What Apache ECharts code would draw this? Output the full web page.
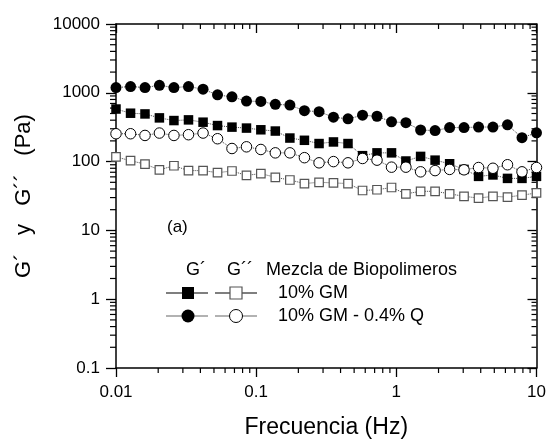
<!DOCTYPE html>
<html>
<head>
<meta charset="utf-8">
<script src="https://cdn.jsdelivr.net/npm/echarts@6/dist/echarts.min.js"></script>
<style>html,body{margin:0;padding:0;background:#fff;}#c{width:549px;height:444px;}</style>
</head>
<body>
<div id="c"></div>
<script>
// ---- data ----
var freq = [0.01, 0.0127, 0.0161, 0.0204, 0.0259, 0.0329, 0.0418, 0.053, 0.0672, 0.0853,
            0.108, 0.137, 0.174, 0.221, 0.281, 0.356, 0.452, 0.574, 0.728, 0.924,
            1.17, 1.49, 1.89, 2.4, 3.04, 3.86, 4.89, 6.21, 7.88, 10];
var gpGM   = [581, 505, 493, 432, 395, 404, 374, 334, 317, 307, 290, 278, 220, 204, 183,
              193, 183, 122, 134, 134, 102, 119, 105, 93, 77, 61, 64, 57, 57, 61];
var gppGM  = [117, 103, 92, 76, 87, 74, 74, 69, 73, 63, 67, 59, 54, 48, 50,
              49, 48, 38, 39, 42, 34, 37, 37, 34, 31.3, 29.5, 31.3, 30.5, 32.5, 35];
var gpGMQ  = [1191, 1233, 1191, 1285, 1191, 1233, 1127, 933, 873, 757, 750, 679, 663, 549, 532,
              442, 418, 472, 456, 378, 368, 288, 282, 312, 312, 318, 318, 342, 223, 262];
var gppGMQ = [254, 254, 240, 260, 240, 246, 260, 215, 155, 164, 150, 134, 134, 114, 96,
              100, 96, 111, 105, 83, 83, 71, 74, 77, 76, 82, 80, 90, 71, 82];
var xTickLabels = ['0.01', '0.1', '1', '10'];
var yTickLabels = ['0.1', '1', '10', '100', '1000', '10000'];
var xMinorTicks = [0.02,0.03,0.04,0.05,0.06,0.07,0.08,0.09, 0.2,0.3,0.4,0.5,0.6,0.7,0.8,0.9, 2,3,4,5,6,7,8,9];
var yMinorTicks = [0.2,0.3,0.4,0.5,0.6,0.7,0.8,0.9, 2,3,4,5,6,7,8,9, 20,30,40,50,60,70,80,90,
                   200,300,400,500,600,700,800,900, 2000,3000,4000,5000,6000,7000,8000,9000];
var seriesNames = ['10% GM', '10% GM - 0.4% Q'];
var xMin = 0.01, xMax = 10, yMin = 0.1, yMax = 10000;

var FONT = 'Liberation Sans, Arial, Helvetica, sans-serif';
function pairs(vals) { return freq.map(function (f, i) { return [f, vals[i]]; }); }
function xFmt(v) { return xTickLabels[Math.round(Math.log10(v)) + 2]; }
function yFmt(v) { return yTickLabels[Math.round(Math.log10(v)) + 1]; }

var lineDot = { type: 'dotted', width: 1, color: '#444' };

var chart = echarts.init(document.getElementById('c'), null, { renderer: 'canvas' });
var axisLineStyle = { color: '#000', width: 1.5 };

chart.setOption({
  animation: false,
  backgroundColor: '#fff',
  grid: { left: 116, right: 12.5, top: 24, bottom: 72.5 },
  xAxis: [{
    type: 'log', logBase: 10, min: xMin, max: xMax, splitNumber: 3, position: 'bottom',
    axisLine: { show: true, lineStyle: axisLineStyle },
    axisTick: { show: true, inside: false, length: 9, lineStyle: { color: '#000', width: 1.3 } },
    axisLabel: { formatter: xFmt, fontFamily: FONT, fontSize: 17, color: '#000', margin: 16 },
    splitLine: { show: false },
    name: 'Frecuencia (Hz)', nameLocation: 'middle', nameGap: 48,
    nameTextStyle: { fontFamily: FONT, fontSize: 23, color: '#000' }
  }, {
    type: 'log', logBase: 10, min: xMin, max: xMax, splitNumber: 3, position: 'top',
    axisLine: { show: true, lineStyle: axisLineStyle },
    axisTick: { show: true, inside: true, length: 9, lineStyle: { color: '#000', width: 1.3 } },
    axisLabel: { show: false }, splitLine: { show: false }
  }],
  yAxis: [{
    type: 'log', logBase: 10, min: yMin, max: yMax, splitNumber: 5, position: 'left',
    axisLine: { show: true, lineStyle: axisLineStyle },
    axisTick: { show: true, inside: false, length: 10, lineStyle: { color: '#000', width: 1.3 } },
    axisLabel: { formatter: yFmt, fontFamily: FONT, fontSize: 17, color: '#000', margin: 16 },
    splitLine: { show: false },
    name: 'G\u00B4   y   G\u00B4\u00B4   (Pa)', nameLocation: 'middle', nameGap: 81,
    nameTextStyle: { fontFamily: FONT, fontSize: 22, color: '#000' }
  }, {
    type: 'log', logBase: 10, min: yMin, max: yMax, splitNumber: 5, position: 'right',
    axisLine: { show: true, lineStyle: axisLineStyle },
    axisTick: { show: true, inside: true, length: 9, lineStyle: { color: '#000', width: 1.3 } },
    axisLabel: { show: false }, splitLine: { show: false }
  }],
  series: [
    {
      type: 'custom', name: 'xminor', silent: true, z: 1,
      data: xMinorTicks.map(function (v) { return [v, yMin]; }),
      renderItem: function (params, api) {
        var v = api.value(0);
        var b = api.coord([v, yMin]);
        var t = api.coord([v, yMax]);
        var st = { stroke: '#000', lineWidth: 1.2 };
        return { type: 'group', children: [
          { type: 'line', shape: { x1: b[0], y1: b[1], x2: b[0], y2: b[1] + 5 }, style: st },
          { type: 'line', shape: { x1: t[0], y1: t[1], x2: t[0], y2: t[1] + 5 }, style: st }
        ]};
      }
    },
    {
      type: 'custom', name: 'yminor', silent: true, z: 1,
      data: yMinorTicks.map(function (v) { return [xMin, v]; }),
      renderItem: function (params, api) {
        var v = api.value(1);
        var l = api.coord([xMin, v]);
        var r = api.coord([xMax, v]);
        var st = { stroke: '#000', lineWidth: 1.2 };
        return { type: 'group', children: [
          { type: 'line', shape: { x1: l[0] - 6, y1: l[1], x2: l[0], y2: l[1] }, style: st },
          { type: 'line', shape: { x1: r[0] - 5, y1: r[1], x2: r[0], y2: r[1] }, style: st }
        ]};
      }
    },
    {
      name: 'G\u00B4 ' + seriesNames[1], type: 'line', data: pairs(gpGMQ), z: 3,
      symbol: 'circle', symbolSize: 11, lineStyle: lineDot,
      itemStyle: { color: '#000', borderColor: '#000', borderWidth: 0 }
    },
    {
      name: 'G\u00B4 ' + seriesNames[0], type: 'line', data: pairs(gpGM), z: 4,
      symbol: 'rect', symbolSize: 9.5, lineStyle: lineDot,
      itemStyle: { color: '#000', borderColor: '#000', borderWidth: 0 }
    },
    {
      name: 'G\u00B4\u00B4 ' + seriesNames[0], type: 'line', data: pairs(gppGM), z: 5,
      symbol: 'rect', symbolSize: 8.5, lineStyle: lineDot,
      itemStyle: { color: '#fff', borderColor: '#555', borderWidth: 1.2 }
    },
    {
      name: 'G\u00B4\u00B4 ' + seriesNames[1], type: 'line', data: pairs(gppGMQ), z: 6,
      symbol: 'circle', symbolSize: 10.5, lineStyle: lineDot,
      itemStyle: { color: '#fff', borderColor: '#000', borderWidth: 1 }
    }
  ],
  graphic: [
    { type: 'text', left: 167, top: 219, style: { text: '(a)', font: '17px ' + FONT, fill: '#000' } },
    { type: 'text', x: 196, y: 270, style: { text: 'G\u00B4', font: '18px ' + FONT, fill: '#000', align: 'center', verticalAlign: 'middle' } },
    { type: 'text', x: 240, y: 270, style: { text: 'G\u00B4\u00B4', font: '18px ' + FONT, fill: '#000', align: 'center', verticalAlign: 'middle' } },
    { type: 'text', x: 266, y: 270, style: { text: 'Mezcla de Biopolimeros', font: '18px ' + FONT, fill: '#000', align: 'left', verticalAlign: 'middle' } },
    // row 1
    { type: 'line', shape: { x1: 166, y1: 293, x2: 208, y2: 293 }, style: { stroke: '#000', lineWidth: 1.2 } },
    { type: 'rect', shape: { x: 182, y: 287, width: 12, height: 12 }, style: { fill: '#000' } },
    { type: 'line', shape: { x1: 215, y1: 293, x2: 257, y2: 293 }, style: { stroke: '#000', lineWidth: 1.2 } },
    { type: 'rect', shape: { x: 230, y: 287, width: 12, height: 12 }, style: { fill: '#fff', stroke: '#555', lineWidth: 1.2 } },
    { type: 'text', x: 278, y: 293, style: { text: seriesNames[0], font: '18px ' + FONT, fill: '#000', align: 'left', verticalAlign: 'middle' } },
    // row 2
    { type: 'line', shape: { x1: 166, y1: 316, x2: 208, y2: 316 }, style: { stroke: '#666', lineWidth: 1.2 } },
    { type: 'circle', shape: { cx: 188, cy: 316, r: 6.5 }, style: { fill: '#000' } },
    { type: 'line', shape: { x1: 215, y1: 316, x2: 257, y2: 316 }, style: { stroke: '#666', lineWidth: 1.2 } },
    { type: 'circle', shape: { cx: 236, cy: 316, r: 6.5 }, style: { fill: '#fff', stroke: '#000', lineWidth: 1 } },
    { type: 'text', x: 278, y: 316, style: { text: seriesNames[1], font: '18px ' + FONT, fill: '#000', align: 'left', verticalAlign: 'middle' } }
  ]
});
</script>
</body>
</html>
